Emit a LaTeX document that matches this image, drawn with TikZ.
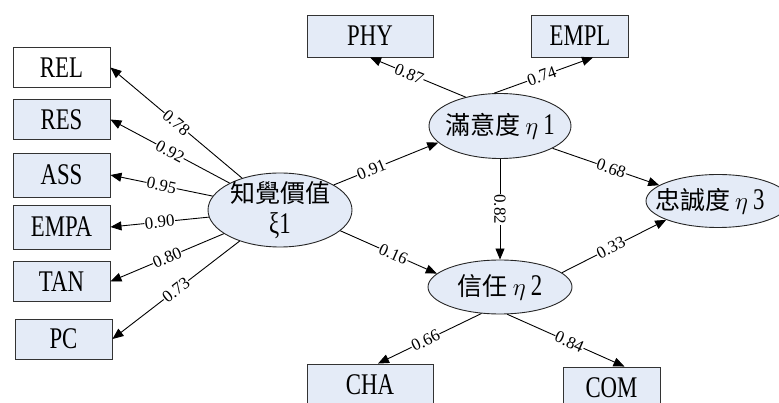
\documentclass[tikz,border=0pt]{standalone}
\usepackage{fontspec}
\setmainfont{Liberation Serif}[FakeStretch=0.76]
\newfontfamily\cjk{Noto Sans CJK TC}
\newfontfamily\lblfont{Liberation Serif}
\usetikzlibrary{arrows.meta,shapes.geometric,calc}
\definecolor{nodefill}{RGB}{228,235,247}
\newcommand{\hanzi}[1]{{\cjk\fontsize{25}{30}\selectfont #1}}

\begin{document}
\begin{tikzpicture}[x=1pt,y=-1pt,
  obs/.style={draw=black!80, line width=0.9pt, fill=nodefill,
    minimum width=97pt, minimum height=40pt, inner sep=0pt,
    font=\fontsize{30}{32}\selectfont},
  lat/.style={ellipse, draw=black!85, line width=0.9pt, fill=nodefill, inner sep=0pt},
  lattext/.style={font=\fontsize{30}{31}\selectfont, align=center, inner sep=0pt},
  link/.style={line width=0.9pt, -{Triangle[length=11pt,width=9pt]}},
  coef/.style={font=\lblfont\fontsize{17}{17}\selectfont, fill=white, inner sep=0.5pt}]

\useasboundingbox (0,0) rectangle (779,403);

% indicator boxes
\node[obs, fill=white] (rel) at (61.5,67.5) {REL};
\node[obs] (res) at (61.5,119.5) {RES};
\node[obs, minimum height=44pt] (ass) at (61.5,175) {ASS};
\node[obs, minimum height=44pt] (empa) at (61.5,227) {EMPA};
\node[obs] (tan) at (61.5,281.5) {TAN};
\node[obs] (pc) at (63.5,339) {PC};
\node[obs, minimum width=126pt, minimum height=42pt] (phy) at (370,36) {PHY};
\node[obs, minimum height=42pt] (empl) at (580,36) {EMPL};
\node[obs, minimum width=126pt, minimum height=42pt] (cha) at (370,385) {CHA};
\node[obs, minimum height=42pt] (com) at (611.5,388) {COM};

% latent variables
\node[lat, minimum width=144pt, minimum height=74pt,
  label={[lattext]center:\hanzi{知覺價值}\\ξ1}] (xi) at (280,210) {};
\node[lat, minimum width=142pt, minimum height=65pt,
  label={[lattext]center:\hanzi{滿意度}\,$\eta$\,1}] (eta1) at (500,126) {};
\node[lat, minimum width=144pt, minimum height=54pt,
  label={[lattext]center:\hanzi{信任}\,$\eta$\,2}] (eta2) at (500,287) {};
\node[lat, minimum width=144pt, minimum height=53pt] (eta3) at (718,201) {};
\node[lattext, anchor=west] (eta3txt) at (655,201) {\hanzi{忠誠度}\,$\eta$\,3};

% measurement paths of the exogenous factor
\draw[link] (xi) -- node[coef, sloped]{0.78} (rel.east);
\draw[link] (xi) -- node[coef, sloped]{0.92} (res.east);
\draw[link] (xi) -- node[coef, sloped]{0.95} (ass.east);
\draw[link] (xi) -- node[coef, sloped]{0.90} (empa.east);
\draw[link] (xi) -- node[coef, sloped]{0.80} (tan.east);
\draw[link] (xi) -- node[coef, sloped]{0.73} (pc.east);

% measurement paths of the endogenous factors
\draw[link] (eta1.140) -- node[coef, sloped, pos=0.59]{0.87} (phy.south);
\draw[link] (eta1.100) -- node[coef, sloped, pos=0.48]{0.74} ([xshift=13pt]empl.south);
\draw[link] (eta2.235) -- node[coef, sloped, pos=0.54]{0.66} ([xshift=8pt]cha.north);
\draw[link] (eta2.285) -- node[coef, sloped, pos=0.53]{0.84} ([xshift=13pt]com.north);

% structural paths
\draw[link] (xi.25) -- node[coef, sloped, pos=0.36]{0.91} (eta1.195);
\draw[link] (xi.341) -- node[coef, sloped, pos=0.55]{0.16} (eta2.168);
\draw[link] (eta1.337) -- node[coef, sloped, pos=0.55]{0.68} (eta3.165);
\draw[link] (eta2.13) -- node[coef, sloped, pos=0.47]{0.33} (eta3.200);
\draw[link] (eta1) -- node[coef, rotate=-90]{0.82} (eta2);
\end{tikzpicture}
\end{document}
